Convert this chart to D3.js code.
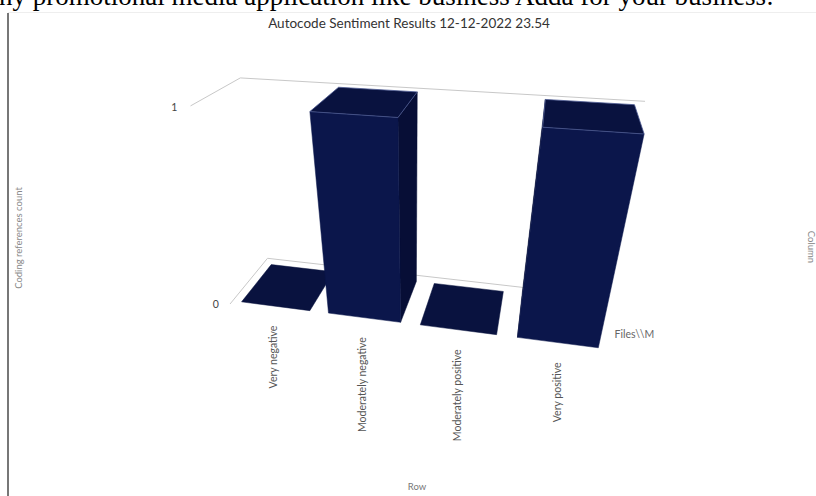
<!DOCTYPE html>
<html>
<head>
<meta charset="utf-8">
<script src="https://cdn.jsdelivr.net/npm/d3@7"></script>
<style>
  body { margin: 0; background: #fff; }
  svg { display: block; font-family: Lato, "Open Sans", sans-serif; }
</style>
</head>
<body>
<div id="chart"></div>
<script>
// ......................
// Chart data
var categories = ["Very negative", "Moderately negative", "Moderately positive", "Very positive"];
var counts = [0, 1, 0, 1];
var yTicks = [0, 1];
var seriesNames = ["Files\\\\M"];

// ......................
// Setting up SVG area
var svgWidth = 816;
var svgHeight = 496;

// plot box in world units (x along rows, y up, z into the page)
var plotW = 610, plotH = 330, plotD = 153;

// camera: tilt (alpha), turn (beta), focal length and screen centre
var alpha = 32.7 * Math.PI / 180;
var beta = 12.1 * Math.PI / 180;
var focal = 601, centerX = 412, centerY = 281;
var shift = [-302.8, -38.3, 1000];

var cA = Math.cos(alpha), sA = Math.sin(alpha);
var cB = Math.cos(beta), sB = Math.sin(beta);

function toCamera(p) {
    var x1 = p[0] * cB + p[2] * sB;
    var z1 = -p[0] * sB + p[2] * cB;
    var y2 = p[1] * cA + z1 * sA;
    var z2 = -p[1] * sA + z1 * cA;
    return [x1 + shift[0], y2 + shift[1], z2 + shift[2]];
}

function project(p) {
    var q = toCamera(p);
    return [centerX + focal * q[0] / q[2], centerY - focal * q[1] / q[2]];
}

// where the eye sits, in world units (for hiding back faces)
var eye = (function() {
    var c = [-shift[0], -shift[1], -shift[2]];
    var y1 = c[1] * cA - c[2] * sA;
    var z1 = c[1] * sA + c[2] * cA;
    return [c[0] * cB - z1 * sB, y1, c[0] * sB + z1 * cB];
})();

// ......................
// Scales
var xScale = d3.scaleBand()
    .domain(categories)
    .range([0, plotW])
    .paddingInner(0.21)
    .paddingOuter(0.105);

var yScale = d3.scaleLinear()
    .domain([0, 1])
    .range([0, plotH]);

var zScale = d3.scaleBand()
    .domain(seriesNames)
    .range([0, plotD - 10])
    .paddingOuter(0.08);

var line = d3.line();

var svg = d3.select("#chart")
    .append("svg")
    .attr("width", svgWidth)
    .attr("height", svgHeight);

// ......................
// Page bits around the chart (cropped screenshot)
svg.append("text")
    .attr("x", -1)
    .attr("y", 5)
    .attr("font-family", "'Liberation Serif', 'Times New Roman', serif")
    .attr("font-size", 27)
    .attr("fill", "#000")
    .text("ny promotional media application like business Adda for your business:");

svg.append("line")
    .attr("x1", 8).attr("x2", svgWidth)
    .attr("y1", 12.5).attr("y2", 12.5)
    .attr("stroke", "#eeeeee");

svg.append("line")
    .attr("x1", 8).attr("x2", 8)
    .attr("y1", 13).attr("y2", svgHeight)
    .attr("stroke", "#555")
    .attr("stroke-width", 1.6);

// ......................
// Title and axis titles
svg.append("text")
    .attr("x", 409)
    .attr("y", 28)
    .attr("text-anchor", "middle")
    .attr("font-size", 13.5)
    .attr("fill", "#333")
    .text("Autocode Sentiment Results 12-12-2022 23.54");

svg.append("text")
    .attr("transform", "translate(22, 238) rotate(-90)")
    .attr("text-anchor", "middle")
    .attr("font-size", 9.5)
    .attr("fill", "#888")
    .text("Coding references count");

svg.append("text")
    .attr("transform", "translate(808, 247) rotate(90)")
    .attr("text-anchor", "middle")
    .attr("font-size", 9.5)
    .attr("fill", "#888")
    .text("Column");

svg.append("text")
    .attr("x", 417)
    .attr("y", 490)
    .attr("text-anchor", "middle")
    .attr("font-size", 9.5)
    .attr("fill", "#777")
    .text("Row");

// ......................
// Grid lines on the side and back walls
var grid = svg.append("g").attr("class", "grid");

yTicks.forEach(function(t) {
    var y = yScale(t);
    grid.append("path")
        .attr("d", line([[0, y, 0], [0, y, plotD], [plotW, y, plotD]].map(project)))
        .attr("fill", "none")
        .attr("stroke", "#c8c8c8")
        .attr("stroke-width", 1);

    var lp = project([-20, y, 0]);
    grid.append("text")
        .attr("x", lp[0])
        .attr("y", lp[1] + 2)
        .attr("dy", "0.35em")
        .attr("text-anchor", "end")
        .attr("font-size", 10.5)
        .attr("fill", "#444")
        .text(t);
});

// ......................
// Columns as boxes
var z0 = zScale(seriesNames[0]);
var z1 = z0 + zScale.bandwidth();

var boxes = categories.map(function(c, i) {
    var x0 = xScale(c), x1 = x0 + xScale.bandwidth();
    var top = yScale(counts[i]);
    var mid = [(x0 + x1) / 2 - eye[0], top / 2 - eye[1], (z0 + z1) / 2 - eye[2]];
    return {x0: x0, x1: x1, top: top, dist: Math.hypot(mid[0], mid[1], mid[2])};
});

// farther boxes first
boxes.sort(function(a, b) { return b.dist - a.dist; });

var bars = svg.append("g").attr("class", "bars");

boxes.forEach(function(b) {
    var faces = [];
    if (b.top > 0) {
        if (eye[0] < b.x0) {
            faces.push({pts: [[b.x0, 0, z0], [b.x0, 0, z1], [b.x0, b.top, z1], [b.x0, b.top, z0]], fill: "#070e36"});
        }
        if (eye[0] > b.x1) {
            faces.push({pts: [[b.x1, 0, z0], [b.x1, 0, z1], [b.x1, b.top, z1], [b.x1, b.top, z0]], fill: "#070e36"});
        }
        faces.push({pts: [[b.x0, 0, z0], [b.x1, 0, z0], [b.x1, b.top, z0], [b.x0, b.top, z0]], fill: "#0b164b"});
    }
    faces.push({pts: [[b.x0, b.top, z0], [b.x1, b.top, z0], [b.x1, b.top, z1], [b.x0, b.top, z1]],
        fill: "#09123f", edge: b.top > 0});

    faces.forEach(function(f) {
        bars.append("path")
            .attr("d", line(f.pts.map(project)) + "Z")
            .attr("fill", f.fill)
            .attr("stroke", f.edge ? "#4a5890" : f.fill)
            .attr("stroke-width", f.edge ? 0.8 : 0.5)
            .attr("stroke-linejoin", "round");
    });
});

// ......................
// Row labels under each column
categories.forEach(function(c) {
    var p = project([xScale(c) + xScale.bandwidth() / 2, 0, 0]);
    svg.append("text")
        .attr("transform", `translate(${p[0]}, ${p[1] + 16}) rotate(-90)`)
        .attr("dy", "0.35em")
        .attr("text-anchor", "end")
        .attr("font-size", 10.5)
        .attr("fill", "#555")
        .text(c);
});

// series label on the depth axis
seriesNames.forEach(function(s) {
    var p = project([plotW + 10, 0, 50]);
    svg.append("text")
        .attr("x", p[0])
        .attr("y", p[1])
        .attr("dy", "0.35em")
        .attr("font-size", 10.5)
        .attr("fill", "#666")
        .text(s);
});
</script>
</body>
</html>
